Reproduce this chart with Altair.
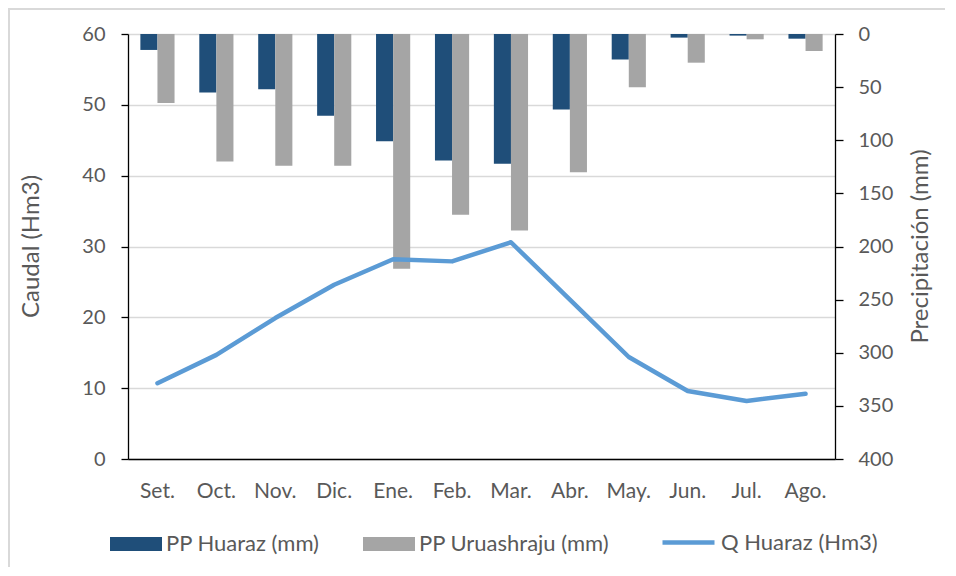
import altair as alt
import pandas as pd

months = ["Set.", "Oct.", "Nov.", "Dic.", "Ene.", "Feb.", "Mar.", "Abr.", "May.", "Jun.", "Jul.", "Ago."]
pp_huaraz = [15, 55, 52, 77, 101, 119, 122, 71, 24, 3.4, 1.5, 4.4]
pp_uruashraju = [65, 120, 124, 124, 221, 170, 185, 130, 50, 27, 5, 16]
q_huaraz = [10.7, 14.7, 19.9, 24.6, 28.2, 27.9, 30.6, 22.5, 14.4, 9.6, 8.2, 9.2]

bar_series = ["PP Huaraz (mm)", "PP Uruashraju (mm)"]
line_series = ["Q Huaraz (Hm3)"]

bars_df = pd.DataFrame(
    [{"mes": m, "serie": bar_series[0], "pp": v} for m, v in zip(months, pp_huaraz)]
    + [{"mes": m, "serie": bar_series[1], "pp": v} for m, v in zip(months, pp_uruashraju)]
)
line_df = pd.DataFrame({"mes": months, "serie": line_series[0], "q": q_huaraz})

FONT = "Lato"
TXT = "#595959"

x_enc = alt.X(
    "mes:N",
    sort=months,
    scale=alt.Scale(paddingInner=0.42, paddingOuter=0.21),
    axis=alt.Axis(
        title=None, labelAngle=0, ticks=False, domainColor="#000000", domainWidth=1.3,
        labelColor=TXT, labelFont=FONT, labelFontSize=21, labelPadding=21, grid=False,
    ),
)

bars = alt.Chart(bars_df).mark_bar().encode(
    x=x_enc,
    xOffset=alt.XOffset("serie:N", sort=bar_series, scale=alt.Scale(paddingInner=0, paddingOuter=0)),
    y=alt.Y(
        "pp:Q",
        scale=alt.Scale(domain=[0, 400], reverse=True, nice=False),
        axis=alt.Axis(
            orient="right", values=[0, 50, 100, 150, 200, 250, 300, 350, 400], grid=False,
            title="Precipitación (mm)", titleAngle=-90, titleX=85, titleY=212,
            titleAlign="center", titleBaseline="middle", titleFont=FONT, titleFontSize=24,
            titleFontWeight="normal", titleColor=TXT,
            labelFont=FONT, labelFontSize=20, labelColor=TXT, labelPadding=15,
            tickColor="#000000", tickSize=8, domainColor="#000000", domainWidth=1.3, tickWidth=1.3,
        ),
    ),
    color=alt.Color(
        "serie:N",
        sort=bar_series,
        scale=alt.Scale(domain=bar_series, range=["#1f4e79", "#a5a5a5"]),
        legend=alt.Legend(
            title=None, orient="none", direction="horizontal", legendX=-18, legendY=484,
            symbolType="M-1,-0.27L1,-0.27L1,0.27L-1,0.27Z", symbolSize=2704,
            symbolStrokeWidth=0, labelFont=FONT, labelFontSize=22, labelColor=TXT,
            labelOffset=4, columnPadding=43, padding=0, labelLimit=400,
        ),
    ),
)

line = alt.Chart(line_df).mark_line(strokeWidth=4.5, strokeCap="round", strokeJoin="round").encode(
    x=x_enc,
    y=alt.Y(
        "q:Q",
        scale=alt.Scale(domain=[0, 60], nice=False),
        axis=alt.Axis(
            orient="left", values=[0, 10, 20, 30, 40, 50, 60], grid=True, gridColor="#d9d9d9",
            gridWidth=1.3, title="Caudal (Hm3)", titleAngle=-90, titleX=-97, titleY=212,
            titleAlign="center", titleBaseline="middle", titleFont=FONT, titleFontSize=24,
            titleFontWeight="normal", titleColor=TXT,
            labelFont=FONT, labelFontSize=20, labelColor=TXT, labelPadding=16,
            tickColor="#000000", tickSize=7, domainColor="#000000", domainWidth=1.3, tickWidth=1.3,
        ),
    ),
    stroke=alt.Stroke(
        "serie:N",
        scale=alt.Scale(domain=line_series, range=["#5b9bd5"]),
        legend=alt.Legend(
            title=None, orient="none", direction="horizontal", legendX=532, legendY=480,
            symbolType="stroke", symbolSize=2704, symbolStrokeWidth=4.5,
            labelFont=FONT, labelFontSize=22, labelColor=TXT, labelOffset=4, padding=0,
            labelLimit=400,
        ),
    ),
)

border_top = alt.Chart(line_df).mark_rule(color="#d9d9d9", strokeWidth=1.5).encode(
    x=alt.value(-120), x2=alt.value(830), y=alt.value(-25)
)
border_left = alt.Chart(line_df).mark_rule(color="#d9d9d9", strokeWidth=1.5).encode(
    x=alt.value(-119), y=alt.value(-26), y2=alt.value(560)
)

chart = (
    alt.layer(bars, line, border_top, border_left)
    .resolve_scale(y="independent", color="independent", stroke="independent")
    .properties(
        width=707, height=425,
        autosize=alt.AutoSizeParams(type="none"),
        padding={"left": 120, "top": 26, "right": 110, "bottom": 108},
        background="#ffffff",
    )
    .configure_view(stroke=None)
)

chart.save("out.html", embed_options={"renderer": "svg", "actions": False})
